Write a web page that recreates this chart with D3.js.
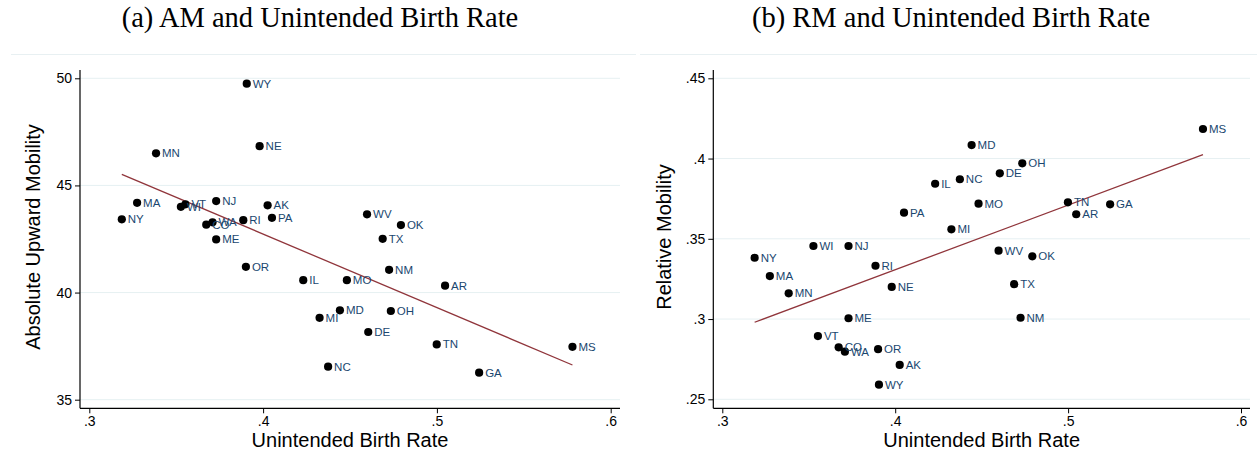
<!DOCTYPE html>
<html>
<head>
<meta charset="utf-8">
<script src="https://cdn.jsdelivr.net/npm/d3@7"></script>
<style>
  html, body { margin: 0; padding: 0; background: #fff; }
  svg { display: block; }
</style>
</head>
<body>
<svg id="chart" width="1257" height="452"></svg>
<script>
// ---------- DATA ----------
const states = ["NY","MA","MN","WI","VT","CO","WA","NJ","ME","RI","OR","WY","NE","AK","PA",
                "IL","MI","NC","MD","MO","WV","DE","TX","NM","OH","OK","TN","AR","GA","MS"];
const unintended = [0.3187,0.3275,0.3384,0.3527,0.3553,0.3673,0.3709,0.3730,0.3730,0.3886,0.3901,0.3906,0.3980,0.4026,0.4051,
                    0.4231,0.4325,0.4374,0.4442,0.4482,0.4598,0.4605,0.4688,0.4725,0.4735,0.4793,0.4999,0.5047,0.5243,0.5780];
const absoluteMobility = [43.42,44.19,46.50,44.00,44.12,43.17,43.28,44.27,42.48,43.38,41.20,49.75,46.83,44.07,43.49,
                          40.58,38.82,36.54,39.17,40.58,43.65,38.16,42.51,41.06,39.14,43.15,37.58,40.32,36.26,37.47];
const relativeMobility = [0.3382,0.3268,0.3160,0.3455,0.2894,0.2824,0.2797,0.3455,0.3005,0.3332,0.2812,0.2591,0.3200,0.2714,0.3663,
                          0.3843,0.3559,0.3871,0.4084,0.3719,0.3426,0.3908,0.3217,0.3008,0.3970,0.3391,0.3727,0.3653,0.3715,0.4184];
// fitted-line endpoints
const fitX = [0.3187, 0.5780];
const fitAM = [45.52, 36.62];
const fitRM = [0.2980, 0.4024];
const xTicks = [0.3, 0.4, 0.5, 0.6];
const amTicks = [35, 40, 45, 50];
const rmTicks = [0.25, 0.3, 0.35, 0.4, 0.45];
const titles = ["(a) AM and Unintended Birth Rate", "(b) RM and Unintended Birth Rate"];
const yTitles = ["Absolute Upward Mobility", "Relative Mobility"];
const xTitle = "Unintended Birth Rate";

// ---------- DRAW ----------
const svg = d3.select("#chart");
const stataFmt = v => {
  let s = String(+v.toFixed(4));
  if (s.startsWith("0.")) s = s.slice(1);
  return s;
};

const panels = [
  { title: titles[0], yTitle: yTitles[0], ys: absoluteMobility, fitY: fitAM, yTicks: amTicks,
    yDomain: [35, 50], xRange: [89.3, 610.7], yRange: [399.7, 78.3],
    axisX: 80, plotRight: 620, frame: [11, 636], titleX: 320, yTitleX: 40, fmt: d => String(d) },
  { title: titles[1], yTitle: yTitles[1], ys: relativeMobility, fitY: fitRM, yTicks: rmTicks,
    yDomain: [0.25, 0.45], xRange: [722.3, 1241], yRange: [399.3, 78.3],
    axisX: 713.3, plotRight: 1250, frame: [640, 1257], titleX: 951, yTitleX: 671, fmt: stataFmt }
];

const axisY = 408.3, axisTop = 70;

panels.forEach(p => {
  const g = svg.append("g");
  const x = d3.scaleLinear().domain([0.3, 0.6]).range(p.xRange);
  const y = d3.scaleLinear().domain(p.yDomain).range(p.yRange);

  // faint region outline (top)
  g.append("line").attr("x1", p.frame[0]).attr("x2", p.frame[1])
    .attr("y1", 54.5).attr("y2", 54.5).attr("stroke", "#e8f0f2").attr("stroke-width", 1);

  // title
  g.append("text").attr("x", p.titleX).attr("y", 27)
    .attr("text-anchor", "middle").attr("font-family", "'Liberation Serif', 'Times New Roman', serif")
    .attr("font-size", 28.5).attr("fill", "#000").text(p.title);

  // gridlines
  g.selectAll(".grid").data(p.yTicks).enter().append("line")
    .attr("x1", p.axisX).attr("x2", p.plotRight)
    .attr("y1", d => y(d)).attr("y2", d => y(d))
    .attr("stroke", "#e6f0f2").attr("stroke-width", 1);

  // y axis
  const yAxis = d3.axisLeft(y).tickValues(p.yTicks).tickFormat(p.fmt).tickSize(5).tickPadding(3);
  const ya = g.append("g").attr("transform", `translate(${p.axisX},0)`).call(yAxis);
  ya.select(".domain").remove();
  ya.append("line").attr("x1", 0).attr("x2", 0).attr("y1", axisTop).attr("y2", axisY)
    .attr("stroke", "#000").attr("stroke-width", 1.2);
  ya.selectAll("text").attr("font-family", "'Liberation Sans', Arial, sans-serif")
    .attr("font-size", 14).attr("fill", "#000");
  ya.selectAll(".tick line").attr("stroke", "#000");

  // x axis
  const xAxis = d3.axisBottom(x).tickValues(xTicks).tickFormat(stataFmt).tickSize(5).tickPadding(3);
  const xa = g.append("g").attr("transform", `translate(0,${axisY})`).call(xAxis);
  xa.select(".domain").remove();
  xa.append("line").attr("x1", p.axisX).attr("x2", p.plotRight).attr("y1", 0).attr("y2", 0)
    .attr("stroke", "#000").attr("stroke-width", 1.2);
  xa.selectAll("text").attr("font-family", "'Liberation Sans', Arial, sans-serif")
    .attr("font-size", 14).attr("fill", "#000");
  xa.selectAll(".tick line").attr("stroke", "#000");

  // axis titles
  g.append("text").attr("x", (p.axisX + p.plotRight) / 2).attr("y", 446.5)
    .attr("text-anchor", "middle").attr("font-family", "'Liberation Sans', Arial, sans-serif")
    .attr("font-size", 20).attr("fill", "#000").text(xTitle);
  g.append("text")
    .attr("transform", `translate(${p.yTitleX},237) rotate(-90)`)
    .attr("text-anchor", "middle").attr("font-family", "'Liberation Sans', Arial, sans-serif")
    .attr("font-size", 20).attr("fill", "#000").text(p.yTitle);

  // fitted line
  g.append("line")
    .attr("x1", x(fitX[0])).attr("y1", y(p.fitY[0]))
    .attr("x2", x(fitX[1])).attr("y2", y(p.fitY[1]))
    .attr("stroke", "#90353b").attr("stroke-width", 1.3);

  // points
  const pts = states.map((s, i) => ({ s, xv: unintended[i], yv: p.ys[i] }));
  g.selectAll(".dot").data(pts).enter().append("circle")
    .attr("cx", d => x(d.xv)).attr("cy", d => y(d.yv)).attr("r", 4.1).attr("fill", "#000");
  g.selectAll(".lab").data(pts).enter().append("text")
    .attr("x", d => x(d.xv) + 6).attr("y", d => y(d.yv) + 4)
    .attr("font-family", "'Liberation Sans', Arial, sans-serif")
    .attr("font-size", 11.5).attr("fill", "#1a476f").text(d => d.s);
});
</script>
</body>
</html>
